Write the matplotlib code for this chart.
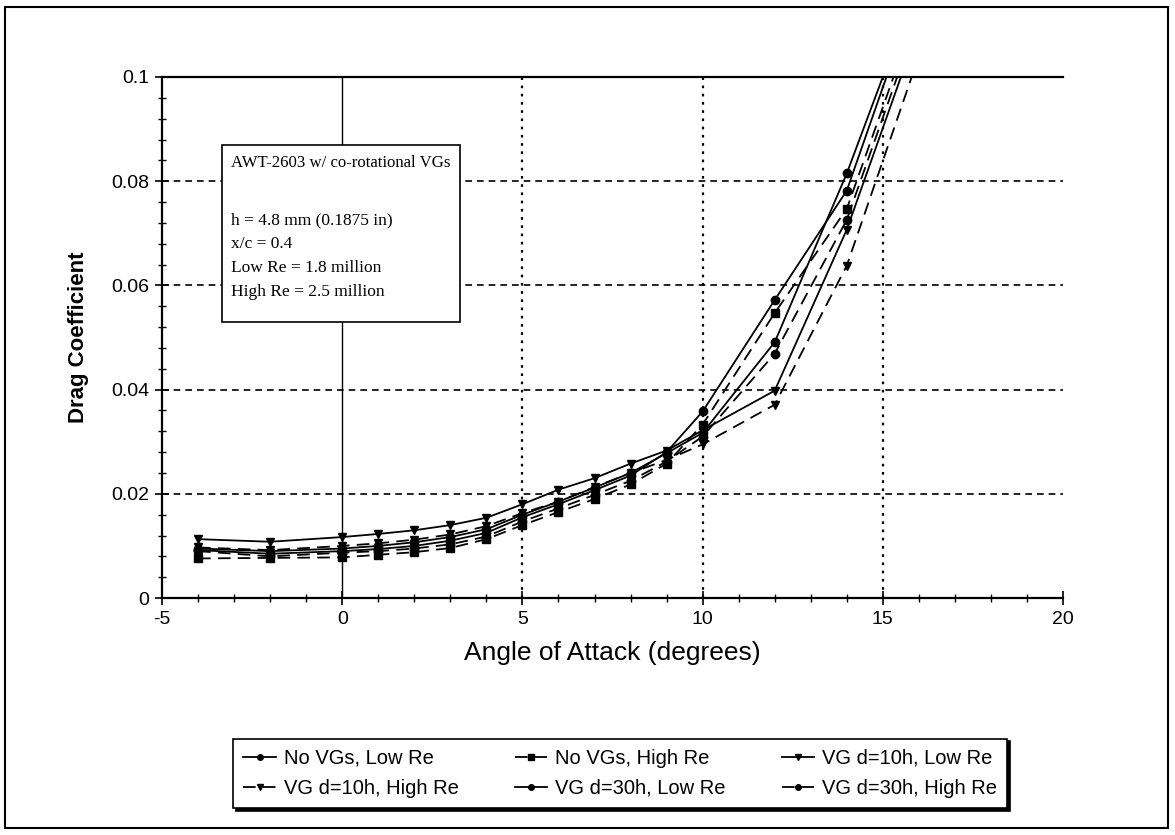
import numpy as np
import matplotlib
matplotlib.use("Agg")
import matplotlib.pyplot as plt
from matplotlib.patches import Rectangle
from matplotlib.ticker import MultipleLocator

# angle of attack (deg); last point lies above the plotted range
alpha = [-4, -2, 0, 1, 2, 3, 4, 5, 6, 7, 8, 9, 10, 12, 14, 16]

# drag coefficient per configuration
no_vg_low = [0.0092, 0.0085, 0.0090, 0.0094, 0.0100, 0.0110, 0.0125, 0.0155, 0.0180,
             0.0207, 0.0235, 0.0280, 0.0358, 0.0572, 0.0782, 0.1178]
no_vg_high = [0.0076, 0.0077, 0.0078, 0.0083, 0.0088, 0.0096, 0.0113, 0.0140, 0.0165,
              0.0190, 0.0218, 0.0258, 0.0333, 0.0547, 0.0747, 0.1137]
vg10_low = [0.0113, 0.0108, 0.0117, 0.0123, 0.0130, 0.0140, 0.0154, 0.0180, 0.0208,
            0.0230, 0.0258, 0.0283, 0.0322, 0.0398, 0.0707, 0.1097]
vg10_high = [0.0097, 0.0092, 0.0100, 0.0105, 0.0112, 0.0122, 0.0138, 0.0163, 0.0185,
             0.0213, 0.0240, 0.0265, 0.0295, 0.0371, 0.0638, 0.1040]
vg30_low = [0.0095, 0.0090, 0.0095, 0.0100, 0.0107, 0.0117, 0.0132, 0.0160, 0.0185,
            0.0212, 0.0240, 0.0278, 0.0317, 0.0491, 0.0815, 0.1185]
vg30_high = [0.0090, 0.0080, 0.0087, 0.0090, 0.0095, 0.0103, 0.0118, 0.0147, 0.0172,
             0.0198, 0.0225, 0.0262, 0.0310, 0.0469, 0.0726, 0.1118]

labels = ["No VGs, Low Re", "No VGs, High Re", "VG d=10h, Low Re",
          "VG d=10h, High Re", "VG d=30h, Low Re", "VG d=30h, High Re"]

info_title = "AWT-2603 w/ co-rotational VGs"
info_lines = ["h = 4.8 mm (0.1875 in)", "x/c = 0.4",
              "Low Re = 1.8 million", "High Re = 2.5 million"]

plt.rcParams['font.family'] = ['Liberation Sans', 'DejaVu Sans']
plt.rcParams['axes.unicode_minus'] = False

fig = plt.figure(figsize=(11.75, 8.35), dpi=100)
ax = fig.add_axes([0.1379, 0.2838, 0.7668, 0.6240])

dash = (0, (7, 4))
series = [
    (no_vg_low, '-', 'o'),
    (no_vg_high, dash, 's'),
    (vg10_low, '-', 'v'),
    (vg10_high, dash, 'v'),
    (vg30_low, '-', 'o'),
    (vg30_high, dash, 'o'),
]
handles = []
for (vals, ls, mk), lab in zip(series, labels):
    ln, = ax.plot(alpha, vals, color='black', linestyle=ls, linewidth=1.3,
                  marker=mk, markersize=6, label=lab, zorder=3)
    handles.append(ln)

ax.set_xlim(-5, 20)
ax.set_ylim(0, 0.1)
ax.xaxis.set_major_locator(MultipleLocator(5))
ax.xaxis.set_minor_locator(MultipleLocator(1))
ax.yaxis.set_minor_locator(MultipleLocator(0.004))
ax.set_yticks([0, 0.02, 0.04, 0.06, 0.08, 0.1])
ax.set_yticklabels(['0', '0.02', '0.04', '0.06', '0.08', '0.1'])
ax.tick_params(which='major', direction='inout', length=10, width=1.2,
               labelsize=14, pad=4)
ax.tick_params(which='minor', direction='inout', length=6, width=1)

# grid: dashed horizontals, dotted verticals, solid at zero
for yv in [0.02, 0.04, 0.06, 0.08]:
    ax.axhline(yv, color='black', linestyle=(0, (4, 3)), linewidth=1.2, zorder=1)
for xv in [5, 10, 15]:
    ax.axvline(xv, color='black', linestyle=(0, (1.2, 2.5)), linewidth=1.6, zorder=1)
ax.axvline(0, color='black', linestyle='-', linewidth=1.0, zorder=1)

ax.spines['right'].set_visible(False)
for s in ['left', 'bottom', 'top']:
    ax.spines[s].set_linewidth(1.6)

ax.set_xlabel("Angle of Attack (degrees)", fontsize=19, labelpad=10)
ax.set_ylabel("Drag Coefficient", fontsize=16, fontweight='bold', labelpad=16)

# annotation box
ax.add_patch(Rectangle((0.0666, 0.5298), 0.2641, 0.3397, transform=ax.transAxes,
                       facecolor='white', edgecolor='black', linewidth=1.2, zorder=4))
serif = ['Liberation Serif', 'DejaVu Serif']
ax.text(0.0766, 0.835, info_title, transform=ax.transAxes, va='center', ha='left',
        fontsize=12.1, family=serif, zorder=5)
for i, line in enumerate(info_lines):
    ax.text(0.0766, 0.7255 - i * 0.0461, line, transform=ax.transAxes, va='center',
            ha='left', fontsize=12.5, family=serif, zorder=5)

# matplotlib fills legend columns first; reorder so rows read like the original
order = [0, 3, 1, 4, 2, 5]
leg = fig.legend([handles[i] for i in order], [labels[i] for i in order],
                 loc='center', bbox_to_anchor=(0.528, 0.074), ncol=3,
                 fontsize=14.5, frameon=True, fancybox=False,
                 shadow={'color': 'black', 'alpha': 1},
                 edgecolor='black', handlelength=1.6, handletextpad=0.4,
                 columnspacing=2.8, borderpad=0.5, labelspacing=0.55)
leg.get_frame().set_linewidth(1.2)
for h in leg.legend_handles:
    h.set_markersize(4)

# outer chart border
fig.add_artist(Rectangle((5 / 1175, 7 / 835), 1163 / 1175, 821 / 835,
                         transform=fig.transFigure, fill=False,
                         edgecolor='black', linewidth=1.5))

fig.savefig("out.png", dpi=100)
